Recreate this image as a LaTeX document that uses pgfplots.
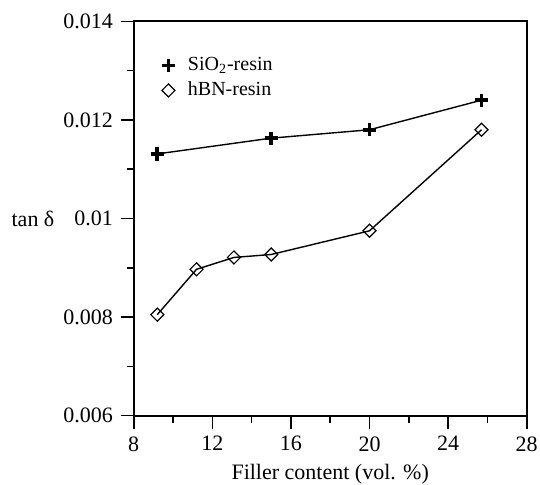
\documentclass[border=0pt]{standalone}
\usepackage{fontspec}
\setmainfont{Liberation Serif}
\usepackage{pgfplots}
\pgfplotsset{compat=1.18}
\begin{document}
\fontsize{11pt}{13pt}\selectfont
\begin{tikzpicture}
\path[use as bounding box] (-66.85pt,-34.65pt) rectangle (203.15pt,207.85pt);
\begin{axis}[
  at={(0,0)}, anchor=south west, scale only axis,
  width=196.5pt, height=197.2pt,
  xmin=8, xmax=28, ymin=0.006, ymax=0.014,
  xtick={8,12,16,20,24,28},
  ytick={0.006,0.008,0.01,0.012,0.014},
  minor x tick num=1, minor y tick num=1,
  xtick pos=bottom, ytick pos=left, tick align=outside,
  major tick length=6.5pt, minor tick length=3.5pt,
  every tick/.style={black, line width=0.8pt},
  axis line style={line width=1pt},
  scaled y ticks=false,
  yticklabel style={/pgf/number format/fixed, /pgf/number format/precision=3},
  /pgf/number format/assume math mode=true,
  tick label style={font=\fontsize{11pt}{13pt}\selectfont},
  xlabel={Filler content (vol. \%)},
  ylabel={tan δ},
  every axis x label/.style={at={(axis description cs:0.5,0)}, anchor=base, yshift=-31.7pt},
  every axis y label/.style={at={(axis description cs:0,0.5)}, anchor=center, xshift=-50.35pt},
  legend style={draw=none, fill=none, at={(axis description cs:0.05,0.93)}, anchor=north west,
    font=\fontsize{10pt}{11pt}\selectfont, row sep=0pt},
  legend cell align=left,
  legend image code/.code={\draw[#1] plot coordinates {(0cm,0cm)}; \path (-4pt,0pt) (7.4pt,0pt);},
]
\addplot[black, line width=0.7pt, mark=+, mark size=3.3pt, mark options={line width=1.8pt}]
  coordinates {(9.2,0.01131) (15,0.01163) (20,0.0118) (25.7,0.0124)};
\addlegendentry{SiO\textsubscript{2}-resin}
\addplot[black, line width=0.7pt, mark=square, mark size=2.3pt, mark options={rotate=45, line width=0.6pt}]
  coordinates {(9.2,0.00805) (11.2,0.00897) (13.1,0.00921) (15,0.00927) (20,0.00975) (25.7,0.0118)};
\addlegendentry{hBN-resin}
\end{axis}
\end{tikzpicture}
\end{document}
